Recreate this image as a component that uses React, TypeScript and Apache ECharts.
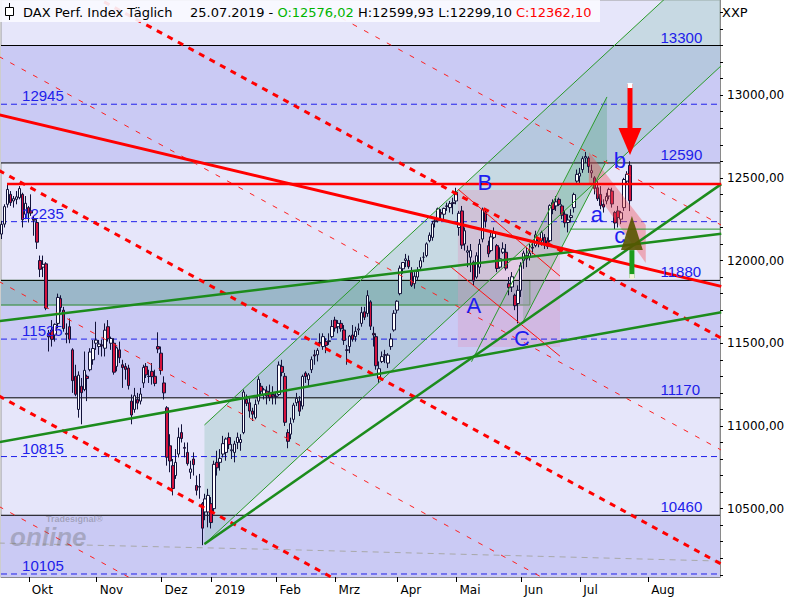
import React, { useEffect, useRef } from 'react';
import * as echarts from 'echarts';

// ---------- data: DAX daily candles [date, open, high, low, close] ----------
const ohlc: [string, number, number, number, number][] = [
  ['2018-09-18', 12050, 12170, 12030, 12157],
  ['2018-09-19', 12160, 12240, 12130, 12219],
  ['2018-09-20', 12220, 12340, 12200, 12326],
  ['2018-09-21', 12340, 12458, 12320, 12430],
  ['2018-09-24', 12400, 12420, 12330, 12350],
  ['2018-09-25', 12360, 12390, 12320, 12374],
  ['2018-09-26', 12370, 12420, 12340, 12385],
  ['2018-09-27', 12380, 12450, 12370, 12435],
  ['2018-09-28', 12400, 12410, 12200, 12247],
  ['2018-10-01', 12280, 12390, 12250, 12346],
  ['2018-10-02', 12320, 12330, 12230, 12287],
  ['2018-10-03', 12300, 12400, 12270, 12287],
  ['2018-10-04', 12250, 12270, 12150, 12244],
  ['2018-10-05', 12230, 12250, 12070, 12111],
  ['2018-10-08', 12000, 12030, 11900, 11947],
  ['2018-10-09', 11960, 12030, 11900, 11977],
  ['2018-10-10', 11980, 11990, 11700, 11712],
  ['2018-10-11', 11560, 11580, 11450, 11539],
  ['2018-10-12', 11580, 11640, 11480, 11524],
  ['2018-10-15', 11550, 11620, 11510, 11614],
  ['2018-10-16', 11620, 11800, 11590, 11777],
  ['2018-10-17', 11770, 11790, 11690, 11716],
  ['2018-10-18', 11700, 11720, 11570, 11589],
  ['2018-10-19', 11560, 11620, 11500, 11554],
  ['2018-10-22', 11600, 11650, 11500, 11524],
  ['2018-10-23', 11460, 11470, 11200, 11274],
  ['2018-10-24', 11300, 11370, 11180, 11191],
  ['2018-10-25', 11100, 11330, 11050, 11307],
  ['2018-10-26', 11240, 11290, 11010, 11201],
  ['2018-10-29', 11220, 11450, 11210, 11336],
  ['2018-10-30', 11300, 11310, 11150, 11287],
  ['2018-10-31', 11340, 11470, 11330, 11447],
  ['2018-11-01', 11400, 11520, 11370, 11468],
  ['2018-11-02', 11500, 11630, 11460, 11519],
  ['2018-11-05', 11480, 11520, 11430, 11495],
  ['2018-11-06', 11490, 11520, 11420, 11484],
  ['2018-11-07', 11470, 11620, 11420, 11579],
  ['2018-11-08', 11600, 11640, 11510, 11527],
  ['2018-11-09', 11500, 11540, 11460, 11529],
  ['2018-11-12', 11500, 11530, 11310, 11325],
  ['2018-11-13', 11360, 11480, 11330, 11472],
  ['2018-11-14', 11460, 11510, 11380, 11412],
  ['2018-11-15', 11370, 11400, 11230, 11353],
  ['2018-11-16', 11360, 11380, 11280, 11342],
  ['2018-11-19', 11350, 11370, 11220, 11244],
  ['2018-11-20', 11150, 11190, 11010, 11066],
  ['2018-11-21', 11100, 11230, 11080, 11183],
  ['2018-11-22', 11160, 11200, 11100, 11138],
  ['2018-11-23', 11150, 11230, 11130, 11193],
  ['2018-11-26', 11260, 11370, 11230, 11354],
  ['2018-11-27', 11360, 11380, 11290, 11309],
  ['2018-11-28', 11300, 11340, 11260, 11299],
  ['2018-11-29', 11330, 11380, 11250, 11298],
  ['2018-11-30', 11300, 11340, 11240, 11257],
  ['2018-12-03', 11480, 11566, 11440, 11465],
  ['2018-12-04', 11440, 11480, 11310, 11335],
  ['2018-12-05', 11260, 11300, 11160, 11200],
  ['2018-12-06', 11110, 11120, 10760, 10811],
  ['2018-12-07', 10880, 10950, 10720, 10788],
  ['2018-12-10', 10760, 10800, 10580, 10622],
  ['2018-12-11', 10700, 10860, 10680, 10780],
  ['2018-12-12', 10830, 10990, 10810, 10931],
  ['2018-12-13', 10960, 11010, 10900, 10924],
  ['2018-12-14', 10870, 10900, 10810, 10865],
  ['2018-12-17', 10840, 10900, 10760, 10772],
  ['2018-12-18', 10720, 10790, 10680, 10740],
  ['2018-12-19', 10800, 10840, 10700, 10766],
  ['2018-12-20', 10640, 10700, 10580, 10611],
  ['2018-12-21', 10630, 10710, 10560, 10634],
  ['2018-12-27', 10530, 10540, 10279, 10382],
  ['2018-12-28', 10480, 10590, 10430, 10559],
  ['2019-01-02', 10480, 10620, 10387, 10580],
  ['2019-01-03', 10530, 10570, 10380, 10416],
  ['2019-01-04', 10500, 10790, 10480, 10768],
  ['2019-01-07', 10780, 10850, 10700, 10747],
  ['2019-01-08', 10780, 10860, 10730, 10804],
  ['2019-01-09', 10830, 10940, 10810, 10893],
  ['2019-01-10', 10840, 10930, 10790, 10921],
  ['2019-01-11', 10930, 10960, 10860, 10887],
  ['2019-01-14', 10850, 10890, 10800, 10856],
  ['2019-01-15', 10840, 10910, 10780, 10891],
  ['2019-01-16', 10900, 10960, 10860, 10931],
  ['2019-01-17', 10900, 10950, 10850, 10918],
  ['2019-01-18', 10960, 11220, 10950, 11205],
  ['2019-01-21', 11160, 11190, 11120, 11136],
  ['2019-01-22', 11140, 11180, 11050, 11090],
  ['2019-01-23', 11090, 11110, 11030, 11071],
  ['2019-01-24', 11050, 11160, 11040, 11130],
  ['2019-01-25', 11150, 11300, 11130, 11282],
  ['2019-01-28', 11240, 11260, 11180, 11210],
  ['2019-01-29', 11190, 11230, 11160, 11218],
  ['2019-01-30', 11210, 11240, 11130, 11181],
  ['2019-01-31', 11200, 11250, 11150, 11173],
  ['2019-02-01', 11190, 11240, 11130, 11180],
  ['2019-02-04', 11180, 11200, 11130, 11176],
  ['2019-02-05', 11190, 11390, 11180, 11368],
  ['2019-02-06', 11360, 11400, 11300, 11324],
  ['2019-02-07', 11300, 11320, 11000, 11022],
  ['2019-02-08', 10960, 10980, 10865, 10907],
  ['2019-02-11', 10950, 11050, 10920, 11014],
  ['2019-02-12', 11040, 11140, 11020, 11126],
  ['2019-02-13', 11140, 11200, 11120, 11167],
  ['2019-02-14', 11150, 11180, 11060, 11089],
  ['2019-02-15', 11120, 11310, 11100, 11299],
  ['2019-02-18', 11320, 11330, 11260, 11299],
  ['2019-02-19', 11280, 11320, 11240, 11309],
  ['2019-02-20', 11340, 11420, 11320, 11401],
  ['2019-02-21', 11430, 11460, 11370, 11423],
  ['2019-02-22', 11430, 11470, 11390, 11457],
  ['2019-02-25', 11500, 11560, 11480, 11505],
  ['2019-02-26', 11480, 11560, 11460, 11540],
  ['2019-02-27', 11510, 11530, 11440, 11487],
  ['2019-02-28', 11510, 11560, 11490, 11515],
  ['2019-03-01', 11540, 11640, 11530, 11601],
  ['2019-03-04', 11640, 11660, 11570, 11592],
  ['2019-03-05', 11600, 11640, 11560, 11620],
  ['2019-03-06', 11620, 11640, 11570, 11588],
  ['2019-03-07', 11580, 11610, 11490, 11517],
  ['2019-03-08', 11460, 11490, 11370, 11457],
  ['2019-03-11', 11480, 11550, 11440, 11543],
  ['2019-03-12', 11550, 11610, 11510, 11524],
  ['2019-03-13', 11540, 11600, 11510, 11572],
  ['2019-03-14', 11580, 11620, 11550, 11587],
  ['2019-03-15', 11620, 11720, 11600, 11685],
  ['2019-03-18', 11690, 11720, 11640, 11657],
  ['2019-03-19', 11680, 11820, 11660, 11788],
  ['2019-03-20', 11750, 11760, 11580, 11603],
  ['2019-03-21', 11560, 11600, 11480, 11550],
  ['2019-03-22', 11540, 11560, 11340, 11364],
  ['2019-03-25', 11290, 11390, 11260, 11346],
  ['2019-03-26', 11390, 11450, 11380, 11419],
  ['2019-03-27', 11430, 11460, 11380, 11428],
  ['2019-03-28', 11380, 11440, 11350, 11428],
  ['2019-03-29', 11480, 11560, 11460, 11526],
  ['2019-04-01', 11580, 11700, 11570, 11681],
  ['2019-04-02', 11700, 11760, 11680, 11754],
  ['2019-04-03', 11800, 11970, 11790, 11954],
  ['2019-04-04', 11950, 11990, 11920, 11988],
  ['2019-04-05', 12000, 12040, 11960, 12010],
  ['2019-04-08', 12000, 12030, 11950, 11963],
  ['2019-04-09', 11930, 11960, 11840, 11850],
  ['2019-04-10', 11860, 11930, 11830, 11905],
  ['2019-04-11', 11900, 11960, 11880, 11935],
  ['2019-04-12', 11960, 12020, 11940, 11999],
  ['2019-04-15', 12020, 12050, 11990, 12020],
  ['2019-04-16', 12030, 12110, 12020, 12101],
  ['2019-04-17', 12120, 12170, 12110, 12153],
  ['2019-04-18', 12140, 12240, 12120, 12222],
  ['2019-04-23', 12240, 12260, 12200, 12235],
  ['2019-04-24', 12240, 12320, 12230, 12313],
  ['2019-04-25', 12290, 12310, 12240, 12282],
  ['2019-04-26', 12280, 12320, 12250, 12315],
  ['2019-04-29', 12330, 12350, 12300, 12328],
  ['2019-04-30', 12320, 12360, 12290, 12344],
  ['2019-05-02', 12350, 12380, 12280, 12345],
  ['2019-05-03', 12360, 12440, 12340, 12413],
  ['2019-05-06', 12200, 12300, 12150, 12286],
  ['2019-05-07', 12300, 12330, 12070, 12093],
  ['2019-05-08', 12100, 12200, 12060, 12180],
  ['2019-05-09', 12050, 12090, 11960, 12059],
  ['2019-05-10', 12020, 12100, 11930, 12060],
  ['2019-05-13', 11990, 12000, 11850, 11876],
  ['2019-05-14', 11900, 12050, 11890, 12029],
  ['2019-05-15', 11960, 12130, 11920, 12099],
  ['2019-05-16', 12130, 12320, 12110, 12310],
  ['2019-05-17', 12290, 12300, 12200, 12238],
  ['2019-05-20', 12090, 12120, 12020, 12041],
  ['2019-05-21', 12060, 12170, 12050, 12143],
  ['2019-05-22', 12140, 12200, 12130, 12169],
  ['2019-05-23', 12090, 12100, 11930, 11952],
  ['2019-05-24', 11960, 12080, 11950, 12011],
  ['2019-05-27', 12050, 12110, 12040, 12071],
  ['2019-05-28', 12050, 12100, 11940, 11954],
  ['2019-05-29', 11860, 11900, 11790, 11837],
  ['2019-05-30', 11840, 11930, 11810, 11902],
  ['2019-05-31', 11790, 11800, 11700, 11727],
  ['2019-06-03', 11740, 11850, 11620, 11820],
  ['2019-06-04', 11820, 11990, 11780, 11971],
  ['2019-06-05', 12000, 12060, 11950, 12045],
  ['2019-06-06', 12030, 12080, 11960, 12009],
  ['2019-06-07', 12020, 12100, 12000, 12045],
  ['2019-06-10', 12080, 12110, 12040, 12075],
  ['2019-06-11', 12090, 12180, 12080, 12155],
  ['2019-06-12', 12130, 12140, 12080, 12115],
  ['2019-06-13', 12120, 12180, 12090, 12169],
  ['2019-06-14', 12140, 12160, 12070, 12096],
  ['2019-06-17', 12120, 12140, 12070, 12086],
  ['2019-06-18', 12120, 12340, 12110, 12332],
  ['2019-06-19', 12350, 12370, 12280, 12309],
  ['2019-06-20', 12330, 12390, 12300, 12355],
  ['2019-06-21', 12370, 12380, 12330, 12340],
  ['2019-06-24', 12330, 12340, 12250, 12274],
  ['2019-06-25', 12280, 12300, 12200, 12228],
  ['2019-06-26', 12230, 12280, 12170, 12245],
  ['2019-06-27', 12260, 12310, 12230, 12271],
  ['2019-06-28', 12320, 12410, 12290, 12399],
  ['2019-07-01', 12480, 12550, 12470, 12521],
  ['2019-07-02', 12510, 12560, 12460, 12528],
  ['2019-07-03', 12550, 12630, 12530, 12616],
  ['2019-07-04', 12620, 12656, 12590, 12629],
  ['2019-07-05', 12620, 12630, 12530, 12568],
  ['2019-07-08', 12530, 12580, 12500, 12543],
  ['2019-07-09', 12500, 12510, 12400, 12436],
  ['2019-07-10', 12440, 12480, 12360, 12373],
  ['2019-07-11', 12400, 12450, 12310, 12332],
  ['2019-07-12', 12340, 12370, 12290, 12323],
  ['2019-07-15', 12360, 12410, 12340, 12387],
  ['2019-07-16', 12390, 12440, 12370, 12430],
  ['2019-07-17', 12420, 12440, 12320, 12342],
  ['2019-07-18', 12290, 12300, 12190, 12227],
  ['2019-07-19', 12300, 12330, 12200, 12260],
  ['2019-07-22', 12250, 12300, 12220, 12289],
  ['2019-07-23', 12320, 12500, 12300, 12490],
  ['2019-07-24', 12480, 12540, 12460, 12522],
  ['2019-07-25', 12576, 12600, 12299, 12362],
];

// month labels and the trading-day index of each month's first session
const MONTH_LABELS = ['Okt', 'Nov', 'Dez', '2019', 'Feb', 'Mrz', 'Apr', 'Mai', 'Jun', 'Jul', 'Aug'];
const MONTH_START = [9, 32, 54, 71, 93, 113, 134, 154, 176, 196, 219];
const Y_LABELS = [10500, 11000, 11500, 12000, 12500, 13000];
const Y_MINOR = [10100, 10200, 10300, 10400, 10500, 10600, 10700, 10800, 10900, 11000, 11100, 11200, 11300, 11400, 11500, 11600, 11700, 11800, 11900, 12000, 12100, 12200, 12300, 12400, 12500, 12600, 12700, 12800, 12900, 13000, 13100, 13200, 13300, 13400, 13500];

// horizontal levels
const LEVEL_SOLID = [13300, 12590, 11880, 11170, 10460];
const LEVEL_DASHED = [12945, 12235, 11525, 10815, 10105];
const RED_LEVEL = 12463;

// trendlines in [index, price] pairs
const RED_MAIN: number[][] = [[0, 12882], [245, 11844]];
const RED_DASH_THICK: number[][][] = [
  [[0, 13911], [245, 11531]],
  [[0, 12545], [245, 10165]],
  [[0, 11182], [245, 8801]],
];
const RED_DASH_THIN: number[][][] = [
  [[0, 14595], [245, 12214]],
  [[0, 13234], [245, 10854]],
  [[0, 11874], [245, 9494]],
  [[0, 10514], [245, 8133]],
];
const GREEN_THICK: number[][][] = [
  [[0, 11634], [245, 12162]],
  [[0, 10902], [245, 11688]],
  [[69.75, 10286], [245, 12462]],
];
const GREEN_THIN_H: number[][] = [[193.7, 12190], [245, 12190]];
const CHANNEL_LOWER: number[][] = [[69.75, 10286], [245, 13178]];
const CHANNEL_UPPER: number[][] = [[69.75, 11006], [245, 13898]];
const STRIP: number[][] = [[177.75, 11628], [177.75, 11985], [206.24, 12989], [206.24, 12608]];
const STRIP_UPPER: number[][] = [[160.3, 11388], [206.24, 12989]];
const STRIP_LOWER: number[][] = [[177.75, 11628], [206.24, 12608]];
const TEAL_BOX: number[][] = [[0, 11731], [180.1, 11731], [180.1, 11880], [0, 11880]];
const ABC_BOX: number[][] = [[155.7, 11477], [190.3, 11477], [190.3, 12426], [155.7, 12426]];
const ABC_R1: number[][] = [[155.7, 12432], [190.3, 11906]];
const ABC_R2: number[][] = [[153.0, 11966], [190.3, 11422]];
const SMALL_CH: number[][] = [[200.1, 12656], [219.4, 12215], [219.4, 11985], [200.1, 12469]];
const GREY_MA: number[][] = [[0, 10292], [102.1, 10250], [245, 10183]];
const RED_ARROW = { i: 214.05, top: 13067, base: 12801, tip: 12638, half: 3.9 };
const GREEN_ARROW = { i: 214.7, bottom: 11894, base: 12063, tip: 12269, half: 3.7 };
const WAVE_LABELS: [string, number, number][] = [
  ['A', 161.1, 11731], ['B', 164.8, 12469], ['C', 177.4, 11526],
  ['a', 202.8, 12281], ['b', 210.6, 12602], ['c', 210.6, 12154],
];
const LEFT_LABEL_I = 7.9;
const RIGHT_LABEL_I = 224.4;

// axis extents
const X_MIN = 0.755, X_MAX = 244.57, Y_MIN = 10086.8, Y_MAX = 13575.1;
const TICK_SHIFT = 1.2;

const LIGHT = '#e6e6fa';
const DARK = '#cacaf4';
const BLUE = '#2020ea';

function lineSeries(pts: number[][], color: string, width: number, type: any, z: number) {
  return {
    type: 'line', data: pts, symbol: 'none', showSymbol: false, silent: true, z,
    clip: true, animation: false,
    lineStyle: { color, width, type, cap: 'butt' },
  };
}

function polySeries(pts: number[][], style: any, z: number) {
  return {
    type: 'custom', coordinateSystem: 'cartesian2d', silent: true, clip: true, z,
    data: [[X_MIN, Y_MIN]],
    renderItem: (_p: any, api: any) => ({
      type: 'polygon',
      shape: { points: pts.map((p) => api.coord(p)) },
      style,
    }),
  };
}

function buildOption() {
  const tickVals = MONTH_START.map((v) => v + TICK_SHIFT);
  const series: any[] = [];

  // background bands (dark ones, light is grid background)
  const darkBands = [[LEVEL_SOLID[1], LEVEL_SOLID[0]], [LEVEL_SOLID[3], LEVEL_SOLID[2]], [Y_MIN, LEVEL_SOLID[4]]];
  darkBands.forEach((b) => {
    series.push(polySeries([[X_MIN, b[0]], [X_MAX, b[0]], [X_MAX, b[1]], [X_MIN, b[1]]], { fill: DARK }, 1));
  });

  // big channel fill
  series.push(polySeries([CHANNEL_LOWER[0], CHANNEL_LOWER[1], CHANNEL_UPPER[1], CHANNEL_UPPER[0]],
    { fill: 'rgba(150,196,188,0.38)' }, 2));
  // teal box
  series.push(polySeries(TEAL_BOX, { fill: 'rgba(70,150,120,0.35)', stroke: '#2a8a2a', lineWidth: 1 }, 3));
  // steep strip
  series.push(polySeries(STRIP, { fill: 'rgba(80,165,125,0.32)' }, 3));
  // ABC box
  series.push(polySeries(ABC_BOX, { fill: 'rgba(225,150,190,0.33)' }, 3));

  // grey MA
  series.push(lineSeries(GREY_MA, '#a8a8a8', 1, [6, 5], 4));
  // levels
  LEVEL_SOLID.forEach((v) => series.push(lineSeries([[X_MIN, v], [X_MAX, v]], '#000000', 1, 'solid', 4)));
  LEVEL_DASHED.forEach((v) => series.push(lineSeries([[X_MIN, v], [X_MAX, v]], BLUE, 1, [6, 4], 4)));

  // candles
  series.push({
    type: 'candlestick',
    data: ohlc.map((r, i) => [i, r[1], r[4], r[3], r[2]]),
    encode: { x: 0, y: [1, 2, 3, 4] },
    barWidth: 3,
    z: 5,
    clip: true,
    silent: true,
    itemStyle: {
      color: '#ffffff', color0: '#d3123c',
      borderColor: '#12123a', borderColor0: '#12123a', borderWidth: 1,
    },
  });

  // small abc channel
  series.push(polySeries(SMALL_CH, { fill: 'rgba(245,70,80,0.38)' }, 6));

  // thin lines
  series.push(lineSeries(CHANNEL_LOWER, '#2a9a2a', 1, 'solid', 7));
  series.push(lineSeries(CHANNEL_UPPER, '#2a9a2a', 1, 'solid', 7));
  series.push(lineSeries(STRIP_UPPER, '#2a9a2a', 1, 'solid', 7));
  series.push(lineSeries(STRIP_LOWER, '#2a9a2a', 1, 'solid', 7));
  series.push(lineSeries(GREEN_THIN_H, '#2a9a2a', 1, 'solid', 7));
  series.push(lineSeries(ABC_R1, '#ff1010', 1, 'solid', 7));
  series.push(lineSeries(ABC_R2, '#ff1010', 1, 'solid', 7));
  RED_DASH_THIN.forEach((l) => series.push(lineSeries(l, '#ff2020', 1, [5, 8], 7)));
  RED_DASH_THICK.forEach((l) => series.push(lineSeries(l, '#ff0000', 3, [6, 6], 7)));
  GREEN_THICK.forEach((l) => series.push(lineSeries(l, '#1c8c1c', 2.5, 'solid', 8)));
  series.push(lineSeries([[2.8, RED_LEVEL], [245, RED_LEVEL]], '#ff0000', 2.5, 'solid', 8));
  series.push(lineSeries(RED_MAIN, '#ff0000', 3, 'solid', 8));

  // arrows
  series.push({
    type: 'custom', coordinateSystem: 'cartesian2d', silent: true, clip: false, z: 9,
    data: [[X_MIN, Y_MIN]],
    renderItem: (_p: any, api: any) => {
      const ra = RED_ARROW, ga = GREEN_ARROW;
      const rTop = api.coord([ra.i, ra.top]);
      const rBase = api.coord([ra.i, ra.base]);
      const gBot = api.coord([ga.i, ga.bottom]);
      const gBase = api.coord([ga.i, ga.base]);
      return {
        type: 'group',
        children: [
          { type: 'line', shape: { x1: rTop[0], y1: rTop[1], x2: rBase[0], y2: rBase[1] + 2 }, style: { stroke: '#ff0000', lineWidth: 5 } },
          { type: 'polygon', shape: { points: [api.coord([ra.i - ra.half, ra.base]), api.coord([ra.i + ra.half, ra.base]), api.coord([ra.i, ra.tip])] }, style: { fill: '#ff0000' } },
          { type: 'rect', shape: { x: rTop[0] - 2.5, y: rTop[1] - 1, width: 5, height: 5 }, style: { fill: '#ffffff' } },
          { type: 'line', shape: { x1: gBot[0], y1: gBot[1], x2: gBase[0], y2: gBase[1] }, style: { stroke: '#1c9c1c', lineWidth: 5 } },
          { type: 'polygon', shape: { points: [api.coord([ga.i - ga.half, ga.base]), api.coord([ga.i + ga.half, ga.base]), api.coord([ga.i, ga.tip])] }, style: { fill: 'rgba(88,84,0,0.9)' } },
          { type: 'rect', shape: { x: gBot[0] - 2.5, y: gBot[1] - 4, width: 5, height: 5 }, style: { fill: '#f4f4dc' } },
        ],
      };
    },
  });

  // texts
  const levelFont = '15px "Liberation Sans", Arial, sans-serif';
  series.push({
    type: 'custom', coordinateSystem: 'cartesian2d', silent: true, clip: false, z: 10,
    data: [[X_MIN, Y_MIN]],
    renderItem: (_p: any, api: any) => {
      const children: any[] = [];
      LEVEL_DASHED.forEach((v) => {
        const [x, y] = api.coord([LEFT_LABEL_I, v]);
        children.push({ type: 'text', x, y: y - 1, style: { text: String(v), fill: BLUE, font: levelFont, align: 'left', verticalAlign: 'bottom', textAlign: 'left', textVerticalAlign: 'bottom' } });
      });
      LEVEL_SOLID.forEach((v) => {
        const [x, y] = api.coord([RIGHT_LABEL_I, v]);
        children.push({ type: 'text', x, y: y - 1, style: { text: String(v), fill: BLUE, font: levelFont, align: 'left', verticalAlign: 'bottom', textAlign: 'left', textVerticalAlign: 'bottom' } });
      });
      WAVE_LABELS.forEach(([t, i, v]) => {
        const [x, y] = api.coord([i, v]);
        children.push({ type: 'text', x, y, style: { text: t, fill: '#1e1ef0', font: '22px "Liberation Sans", Arial, sans-serif', align: 'center', verticalAlign: 'middle', textAlign: 'center', textVerticalAlign: 'middle' } });
      });
      return { type: 'group', children };
    },
  });

  return {
    animation: false,
    backgroundColor: '#ffffff',
    grid: { left: 1, right: 80, top: 0, bottom: 23, show: true, backgroundColor: LIGHT, borderColor: '#9a9a9a', borderWidth: 1 },
    xAxis: {
      type: 'value', min: X_MIN, max: X_MAX,
      axisLine: { show: true, onZero: false, lineStyle: { color: '#8a8a8a' } },
      splitLine: { show: false },
      axisTick: { show: true, customValues: tickVals, length: 5, lineStyle: { color: '#000000' } },
      axisLabel: {
        customValues: tickVals,
        formatter: (val: number) => {
          const k = tickVals.findIndex((t) => Math.abs(t - val) < 0.01);
          return k >= 0 ? MONTH_LABELS[k] : '';
        },
        align: 'left', padding: [0, 0, 0, 3], margin: 7,
        color: '#000000', fontFamily: '"DejaVu Sans", sans-serif', fontSize: 12,
      },
    },
    yAxis: {
      type: 'value', position: 'right', min: Y_MIN, max: Y_MAX, scale: true,
      axisLine: { show: true, onZero: false, lineStyle: { color: '#8a8a8a' } },
      splitLine: { show: false },
      axisTick: { show: true, customValues: Y_MINOR, length: 3, lineStyle: { color: '#000000' } },
      axisLabel: {
        customValues: Y_LABELS,
        formatter: (v: number) => v.toFixed(2).replace('.', ','),
        margin: 7, color: '#000000', fontFamily: '"DejaVu Sans", sans-serif', fontSize: 12,
      },
    },
    graphic: [
      { type: 'rect', z: 100, shape: { x: 0, y: 0, width: 600, height: 22 }, style: { fill: 'rgba(250,250,255,0.9)' } },
      { type: 'line', z: 101, shape: { x1: 9.5, y1: 3, x2: 9.5, y2: 20 }, style: { stroke: '#000', lineWidth: 1 } },
      { type: 'rect', z: 102, shape: { x: 5.5, y: 7.5, width: 8, height: 8 }, style: { fill: '#fff', stroke: '#000', lineWidth: 1 } },
      { type: 'text', z: 103, x: 23, y: 12, style: { text: 'DAX Perf. Index Täglich', fill: '#000', font: '13px "DejaVu Sans", sans-serif', verticalAlign: 'middle', textVerticalAlign: 'middle' } },
      {
        type: 'text', z: 103, x: 190, y: 12,
        style: {
          text: '25.07.2019 - {g|O:12576,02} H:12599,93 L:12299,10 {r|C:12362,10}',
          fill: '#000', font: '13px "DejaVu Sans", sans-serif', verticalAlign: 'middle', textVerticalAlign: 'middle',
          rich: {
            g: { fill: '#00b400', color: '#00b400', font: '13px "DejaVu Sans", sans-serif' },
            r: { fill: '#ff0000', color: '#ff0000', font: '13px "DejaVu Sans", sans-serif' },
          },
        },
      },
      { type: 'text', z: 103, x: 722, y: 12, style: { text: 'XXP', fill: '#000', font: '13px "DejaVu Sans", sans-serif', verticalAlign: 'middle', textVerticalAlign: 'middle' } },
      { type: 'text', z: 50, x: 10, y: 524, style: { text: 'online', fill: 'rgba(100,100,100,0.35)', font: 'bold italic 26px "Liberation Sans", Arial, sans-serif' } },
      { type: 'text', z: 50, x: 46, y: 514, style: { text: 'Tradesignal®', fill: 'rgba(100,100,100,0.4)', font: 'bold 9px "Liberation Sans", Arial, sans-serif' } },
    ],
    series,
  };
}

export default function App() {
  const ref = useRef<HTMLDivElement>(null);
  useEffect(() => {
    const chart = echarts.init(ref.current!, null, { renderer: 'svg' });
    chart.setOption(buildOption() as any);
    return () => chart.dispose();
  }, []);
  return (
    <div
      ref={ref}
      style={{ position: 'fixed', left: 0, top: 0, width: 800, height: 600, background: '#ffffff' }}
    />
  );
}
